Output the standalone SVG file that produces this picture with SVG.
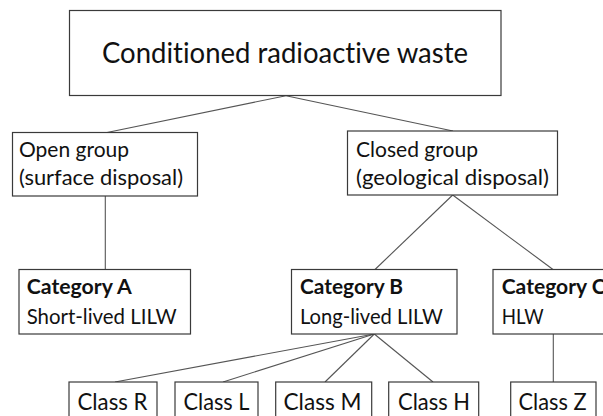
<svg xmlns="http://www.w3.org/2000/svg" width="603" height="416" viewBox="0 0 603 416">
<style>
.box{fill:#fff;stroke:#3a3a3a;stroke-width:1.2}
.t{font-family:Lato,"Open Sans","Liberation Sans",sans-serif;fill:#111;font-variant-ligatures:none}
.big{font-size:28px}
.grp{font-size:22px}
.cat{font-size:21.5px}
.b{font-weight:bold}
.cls{font-size:24px}
.con line{stroke:#555;stroke-width:1.1}
</style>
<rect width="603" height="416" fill="#fff"/>
<g class="con" id="connectors">
<line x1="286" y1="95.7" x2="107" y2="132.5"/>
<line x1="286" y1="95.7" x2="453" y2="131"/>
<line x1="105.3" y1="196" x2="105.3" y2="269.5"/>
<line x1="452.7" y1="195" x2="375" y2="269.5"/>
<line x1="452.7" y1="195" x2="553" y2="269.5"/>
<line x1="374.3" y1="334" x2="115" y2="382"/>
<line x1="374.3" y1="334" x2="223" y2="382"/>
<line x1="374.3" y1="334" x2="325" y2="382"/>
<line x1="374.3" y1="334" x2="433" y2="382"/>
<line x1="553.3" y1="334" x2="553.3" y2="382"/>
</g>
<g id="root">
<rect class="box" x="69.5" y="10.5" width="431.5" height="85"/>
<text class="t big" x="102" y="63" textLength="366" lengthAdjust="spacingAndGlyphs">Conditioned radioactive waste</text>
</g>
<g id="open">
<rect class="box" x="12.5" y="132.5" width="185" height="63.5"/>
<text class="t grp" x="19" y="157" textLength="110" lengthAdjust="spacingAndGlyphs">Open group</text>
<text class="t grp" x="19" y="185" textLength="164" lengthAdjust="spacingAndGlyphs">(surface disposal)</text>
</g>
<g id="closed">
<rect class="box" x="347.5" y="131" width="210" height="64"/>
<text class="t grp" x="356" y="157" textLength="122" lengthAdjust="spacingAndGlyphs">Closed group</text>
<text class="t grp" x="356" y="185" textLength="193" lengthAdjust="spacingAndGlyphs">(geological disposal)</text>
</g>
<g id="catA">
<rect class="box" x="19" y="269.5" width="171.5" height="64.5"/>
<text class="t cat b" x="26.7" y="294.3" textLength="105" lengthAdjust="spacingAndGlyphs">Category A</text>
<text class="t cat" x="26.7" y="324" textLength="150" lengthAdjust="spacingAndGlyphs">Short-lived LILW</text>
</g>
<g id="catB">
<rect class="box" x="291.5" y="269.5" width="165.5" height="64.5"/>
<text class="t cat b" x="300" y="294.3" textLength="103" lengthAdjust="spacingAndGlyphs">Category B</text>
<text class="t cat" x="300" y="324" textLength="143" lengthAdjust="spacingAndGlyphs">Long-lived LILW</text>
</g>
<g id="catC">
<rect class="box" x="493" y="269.5" width="130" height="64.5"/>
<text class="t cat b" x="501.7" y="294.3" textLength="104" lengthAdjust="spacingAndGlyphs">Category C</text>
<text class="t cat" x="501.7" y="323.5" textLength="42" lengthAdjust="spacingAndGlyphs">HLW</text>
</g>
<g id="classR">
<rect class="box" x="69" y="382" width="88" height="50"/>
<text class="t cls" x="77.5" y="409.5" textLength="70" lengthAdjust="spacingAndGlyphs">Class R</text>
</g>
<g id="classL">
<rect class="box" x="175" y="382" width="83" height="50"/>
<text class="t cls" x="183.5" y="409.5" textLength="66" lengthAdjust="spacingAndGlyphs">Class L</text>
</g>
<g id="classM">
<rect class="box" x="275.7" y="382" width="96" height="50"/>
<text class="t cls" x="283.5" y="409.5" textLength="78" lengthAdjust="spacingAndGlyphs">Class M</text>
</g>
<g id="classH">
<rect class="box" x="388.7" y="382" width="90" height="50"/>
<text class="t cls" x="398" y="409.5" textLength="72" lengthAdjust="spacingAndGlyphs">Class H</text>
</g>
<g id="classZ">
<rect class="box" x="510.7" y="382" width="85.3" height="50"/>
<text class="t cls" x="518.5" y="409.5" textLength="68" lengthAdjust="spacingAndGlyphs">Class Z</text>
</g>
</svg>
